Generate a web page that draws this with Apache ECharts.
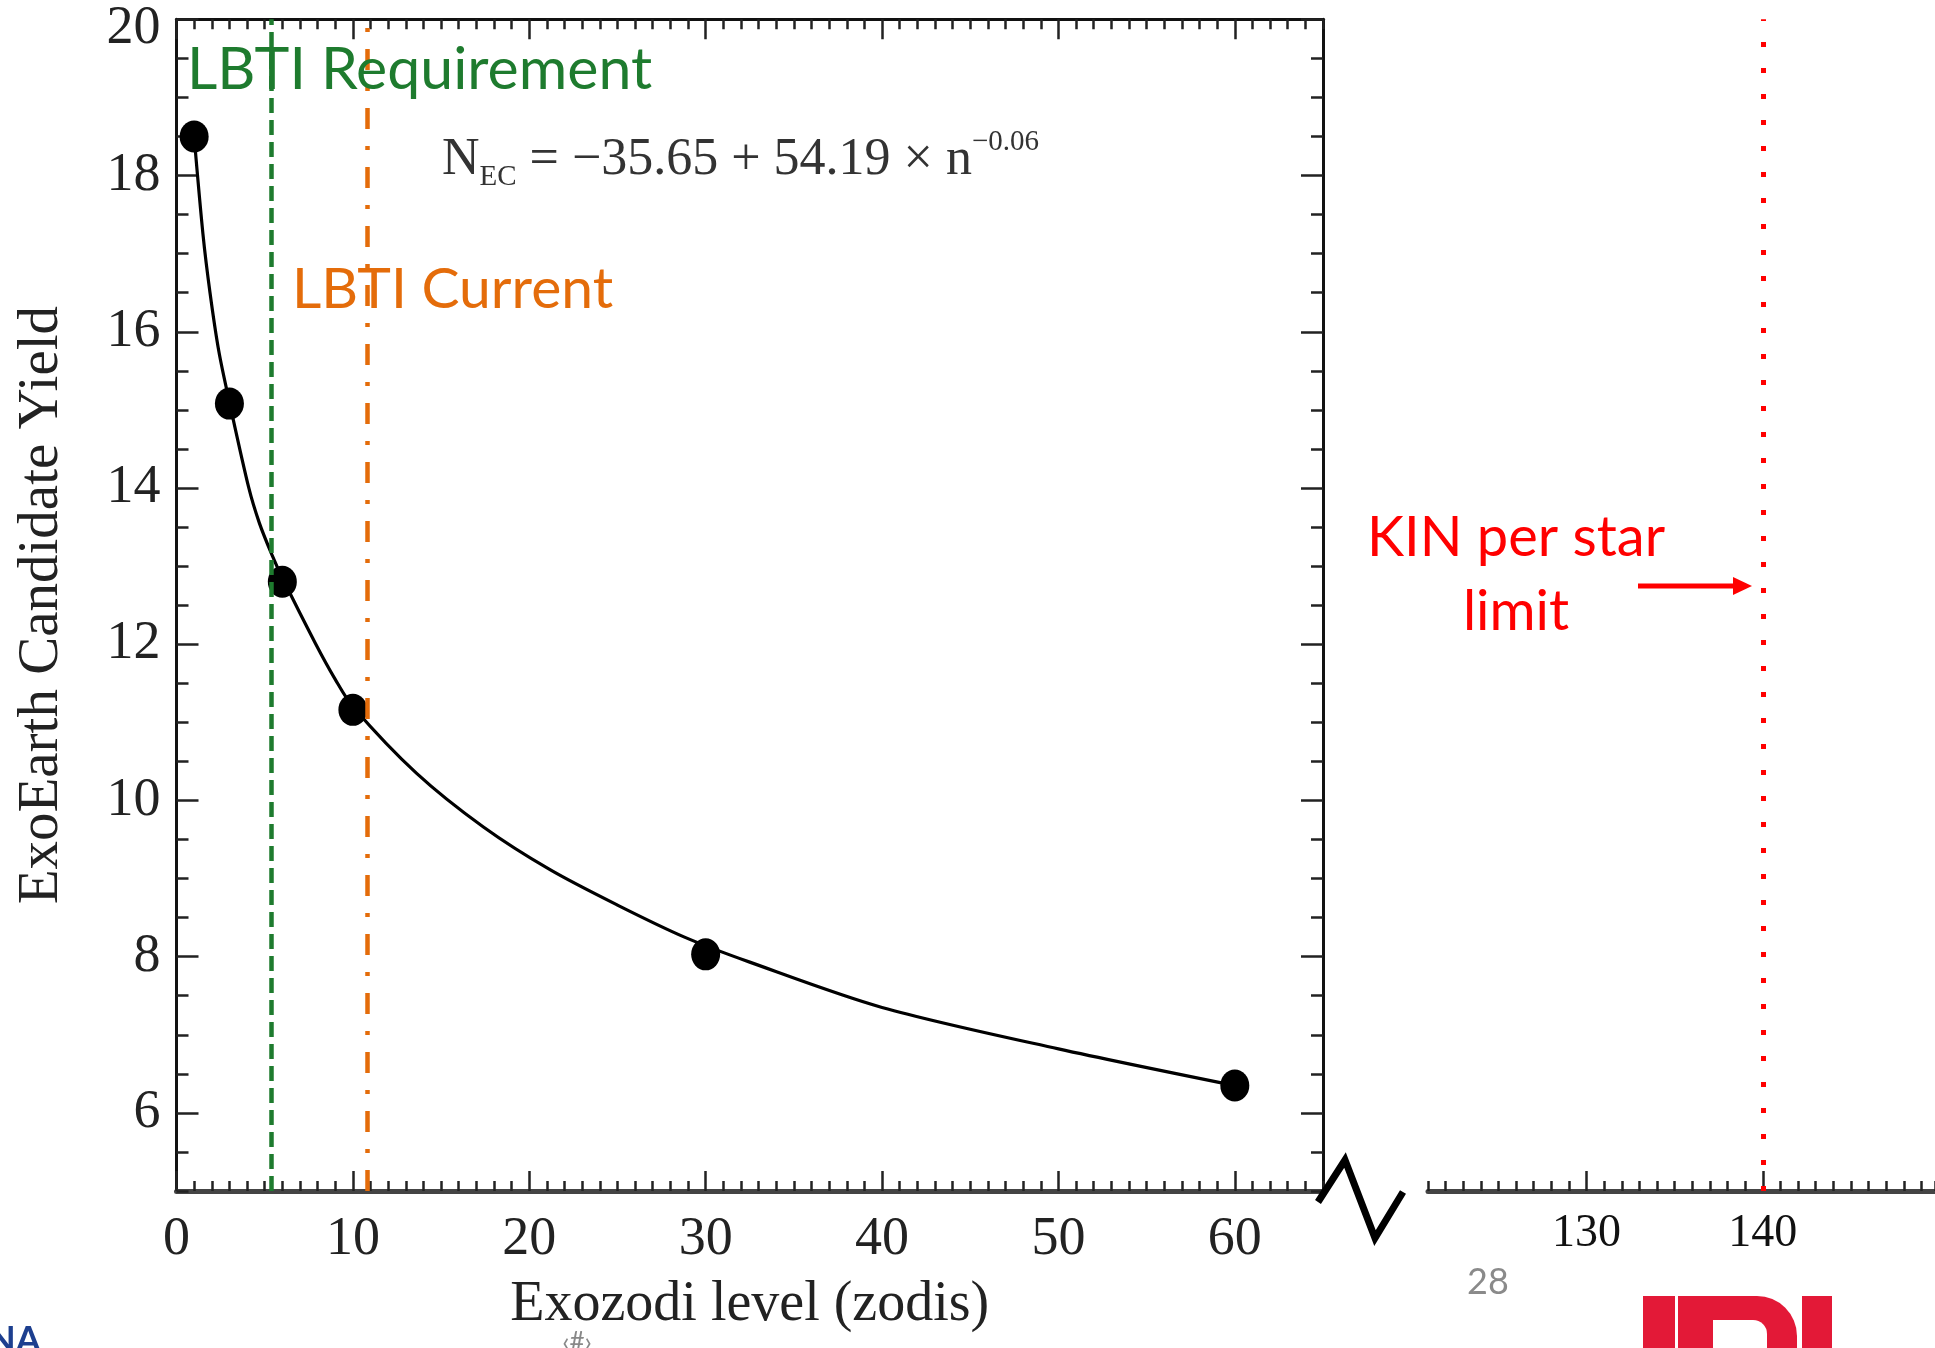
<!DOCTYPE html>
<html>
<head>
    <meta charset="utf-8">
    <title>ExoEarth Candidate Yield</title>
    <script src="https://cdn.jsdelivr.net/npm/echarts@6/dist/echarts.min.js"></script>
    <style>html, body { margin: 0; padding: 0; background: #fff; }</style>
</head>
<body>
    <div id="main" style="width: 1935px;height:1348px;"></div>
    <script type="text/javascript">
        // measured yields (dots)
        var pointX = [1, 3, 6, 10, 30, 60];
        var pointY = [18.5, 15.08, 12.8, 11.16, 8.03, 6.35];
        // fitted curve
        var curveX = [1, 1.5, 1.9, 2.4, 3, 4.1, 4.7, 5.4, 6, 7.9, 9, 10, 13.6, 17.4, 21.2, 25, 28.8, 32.5, 40, 50, 60];
        var curveY = [18.5, 17.25, 16.5, 15.75, 15.1, 14.0, 13.55, 13.15, 12.85, 12.0, 11.55, 11.2, 10.35, 9.66, 9.11, 8.66, 8.25, 7.93, 7.35, 6.82, 6.35];
        // tick labels
        var xTicksMain = [0, 10, 20, 30, 40, 50, 60];
        var xTicksFar = [130, 140];
        var yTicks = [6, 8, 10, 12, 14, 16, 18, 20];
        // reference levels (zodis)
        var lbtiRequirement = 5.4;
        var lbtiCurrent = 10.8;
        var kinLimit = 140;

        var myChart = echarts.init(document.getElementById('main'));

        var serif = '"Liberation Serif", "DejaVu Serif", serif';
        var sans = 'Lato, "Open Sans", sans-serif';
        var tickStyle = { color: '#222', width: 2.5 };

        // main panel and the far (broken) panel; grids 2 and 3 repeat them
        // and only carry the minor ticks
        var mainRect = { left: 176.5, top: 19.3, width: 1146.5, height: 1171.7 };
        var farRect = { left: 1428, top: 19.3, width: 507, height: 1171.7 };

        function axisBox(extra) {
            var base = {
                type: 'value',
                splitLine: { show: false },
                axisLine: { show: false, onZero: false },
                axisTick: { show: false },
                axisLabel: { show: false }
            };
            for (var k in extra) base[k] = extra[k];
            return base;
        }

        var curveData = curveX.map(function (x, i) { return [x, curveY[i]]; });
        var pointData = pointX.map(function (x, i) { return [x, pointY[i]]; });

        option = {
            animation: false,
            backgroundColor: '#fff',
            grid: [mainRect, farRect, mainRect, farRect],
            xAxis: [
                // 0: main bottom
                axisBox({
                    gridIndex: 0, position: 'bottom', min: 0, max: 65,
                    axisLine: { show: true, onZero: false, lineStyle: { color: '#444', width: 5 } },
                    axisTick: { show: true, inside: true, length: 20, lineStyle: tickStyle, customValues: xTicksMain },
                    axisLabel: { show: true, customValues: xTicksMain, margin: 22, fontFamily: serif, fontSize: 54, color: '#222' },
                    name: 'Exozodi level (zodis)', nameLocation: 'middle', nameGap: 86,
                    nameTextStyle: { fontFamily: serif, fontSize: 56, color: '#222' }
                }),
                // 1: main top
                axisBox({
                    gridIndex: 0, position: 'top', min: 0, max: 65,
                    axisLine: { show: true, onZero: false, lineStyle: { color: '#111', width: 3 } },
                    axisTick: { show: true, inside: true, length: 20, lineStyle: tickStyle, customValues: xTicksMain }
                }),
                // 2: far bottom
                axisBox({
                    gridIndex: 1, position: 'bottom', min: 121, max: 149.77,
                    axisLine: { show: true, onZero: false, lineStyle: { color: '#444', width: 5 } },
                    axisTick: { show: true, inside: true, length: 20, lineStyle: tickStyle, customValues: xTicksFar },
                    axisLabel: { show: true, customValues: xTicksFar, margin: 20, fontFamily: serif, fontSize: 46, color: '#111' }
                }),
                // 3, 4: minor ticks of the main panel
                axisBox({
                    gridIndex: 2, position: 'bottom', min: 0, max: 65, interval: 1,
                    axisTick: { show: true, inside: true, length: 10, lineStyle: tickStyle }
                }),
                axisBox({
                    gridIndex: 2, position: 'top', min: 0, max: 65, interval: 1,
                    axisTick: { show: true, inside: true, length: 10, lineStyle: tickStyle }
                }),
                // 5: minor ticks of the far panel
                axisBox({
                    gridIndex: 3, position: 'bottom', min: 121, max: 149.77, interval: 1,
                    axisTick: { show: true, inside: true, length: 10, lineStyle: tickStyle }
                })
            ],
            yAxis: [
                axisBox({
                    gridIndex: 0, position: 'left', min: 5, max: 20,
                    axisLine: { show: true, onZero: false, lineStyle: { color: '#111', width: 3 } },
                    axisTick: { show: true, inside: true, length: 22, lineStyle: tickStyle, customValues: yTicks },
                    axisLabel: {
                        show: true, customValues: yTicks, margin: 16, fontFamily: serif, fontSize: 54, color: '#222',
                        // top label sits a little below the corner in the original
                        formatter: function (v) { return v === 20 ? '{top|' + v + '}' : String(v); },
                        rich: { top: { fontFamily: serif, fontSize: 54, color: '#222', padding: [20, 0, 0, 0] } }
                    },
                    name: 'ExoEarth Candidate Yield', nameLocation: 'middle', nameGap: 106,
                    nameTextStyle: { fontFamily: serif, fontSize: 57, color: '#222' }
                }),
                axisBox({
                    gridIndex: 0, position: 'right', min: 5, max: 20,
                    axisLine: { show: true, onZero: false, lineStyle: { color: '#111', width: 3 } },
                    axisTick: { show: true, inside: true, length: 22, lineStyle: tickStyle, customValues: yTicks }
                }),
                axisBox({ gridIndex: 1, position: 'left', min: 5, max: 20, show: false }),
                axisBox({
                    gridIndex: 2, position: 'left', min: 5, max: 20, interval: 0.5,
                    axisTick: { show: true, inside: true, length: 12, lineStyle: tickStyle }
                }),
                axisBox({
                    gridIndex: 2, position: 'right', min: 5, max: 20, interval: 0.5,
                    axisTick: { show: true, inside: true, length: 12, lineStyle: tickStyle }
                }),
                axisBox({ gridIndex: 3, position: 'left', min: 5, max: 20, show: false })
            ],
            series: [
                {
                    type: 'line',
                    xAxisIndex: 0, yAxisIndex: 0,
                    data: curveData,
                    smooth: 0.3,
                    showSymbol: false,
                    lineStyle: { color: '#000', width: 3.2 },
                    z: 3,
                    markLine: {
                        silent: true,
                        symbol: ['none', 'none'],
                        label: { show: false },
                        data: [
                            { xAxis: lbtiRequirement, lineStyle: { color: '#1e7b2e', width: 4.5, type: [15, 7] } },
                            { xAxis: lbtiCurrent, lineStyle: { color: '#e46c0a', width: 4.5, type: [21, 17, 4, 17] } }
                        ]
                    }
                },
                {
                    type: 'scatter',
                    xAxisIndex: 0, yAxisIndex: 0,
                    data: pointData,
                    symbol: 'circle',
                    symbolSize: [29, 32],
                    itemStyle: { color: '#000', opacity: 1 },
                    z: 4
                },
                {
                    type: 'scatter',
                    xAxisIndex: 2, yAxisIndex: 2,
                    data: [],
                    markLine: {
                        silent: true,
                        symbol: ['none', 'none'],
                        label: { show: false },
                        data: [{ xAxis: kinLimit, lineStyle: { color: '#ff0000', width: 5, type: [5, 21], cap: 'butt' } }]
                    }
                }
            ],
            graphic: [
                // axis break mark
                { type: 'polyline', shape: { points: [[1318, 1202], [1345, 1160], [1375, 1238], [1403, 1192]] },
                  style: { stroke: '#000', lineWidth: 7, fill: null }, z: 10 },
                { type: 'text', x: 187, y: 70,
                  style: { text: 'LBTI Requirement', font: '59px ' + sans, fill: '#1e7b2e', verticalAlign: 'middle' }, z: 10 },
                { type: 'text', x: 292, y: 290,
                  style: { text: 'LBTI Current', font: '57px ' + sans, fill: '#e46c0a', verticalAlign: 'middle' }, z: 10 },
                { type: 'text', x: 442, y: 160,
                  style: {
                      text: '{n|N}{sub|EC}{n| = \u221235.65 + 54.19 \u00d7 n}{sup|\u22120.06}',
                      verticalAlign: 'middle',
                      rich: {
                          n: { fontFamily: serif, fontSize: 52, fill: '#333', lineHeight: 64 },
                          sub: { fontFamily: serif, fontSize: 29, fill: '#333', verticalAlign: 'bottom', lineHeight: 29 },
                          sup: { fontFamily: serif, fontSize: 29, fill: '#333', verticalAlign: 'top', lineHeight: 29 }
                      }
                  }, z: 10 },
                { type: 'text', x: 1516, y: 575,
                  style: { text: 'KIN per star\nlimit', font: '56px ' + sans, lineHeight: 74, fill: '#ff0000', align: 'center', verticalAlign: 'middle' }, z: 10 },
                { type: 'line', shape: { x1: 1638, y1: 586, x2: 1736, y2: 586 },
                  style: { stroke: '#ff0000', lineWidth: 5 }, z: 10 },
                { type: 'polygon', shape: { points: [[1733, 577], [1752, 586], [1733, 595]] },
                  style: { fill: '#ff0000' }, z: 10 },
                // slide furniture
                { type: 'text', x: 1488, y: 1282,
                  style: { text: '28', font: '36px ' + sans, fill: '#8a8a8a', align: 'center', verticalAlign: 'middle' } },
                { type: 'text', x: 577, y: 1330,
                  style: { text: '\u2039#\u203a', font: '26px ' + sans, fill: '#888', align: 'center', verticalAlign: 'top' } },
                { type: 'text', x: -12, y: 1322,
                  style: { text: 'NA', font: 'bold 36px ' + sans, fill: '#1d3f8f', verticalAlign: 'top' } },
                { type: 'rect', shape: { x: 1643, y: 1296, width: 32, height: 60 }, style: { fill: '#e31937' } },
                { type: 'rect', shape: { x: 1678, y: 1296, width: 119, height: 60, r: [0, 40, 0, 0] }, style: { fill: '#e31937' } },
                { type: 'rect', shape: { x: 1713, y: 1320, width: 54, height: 40, r: [0, 14, 0, 0] }, style: { fill: '#fff' }, z: 2 },
                { type: 'rect', shape: { x: 1802, y: 1296, width: 30, height: 60 }, style: { fill: '#e31937' } }
            ]
        };

        myChart.setOption(option);
    </script>
</body>
</html>
